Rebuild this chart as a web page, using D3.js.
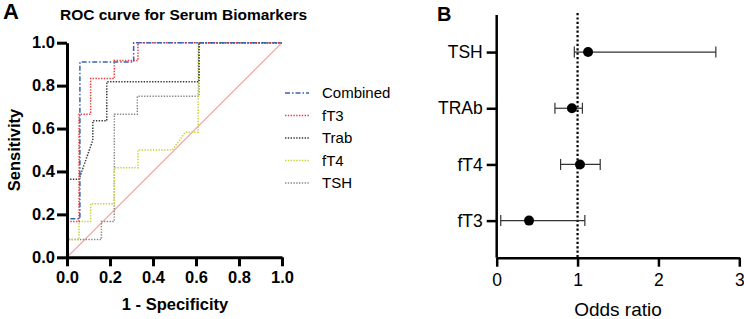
<!DOCTYPE html>
<html lang="en">
  <head>
    <meta http-equiv="Content-Type" content="text/html; charset=UTF-8">
    <title>ROC curve and odds ratios</title>
    <script type="text/javascript" src="https://cdn.jsdelivr.net/npm/d3@7"></script>
    <style type="text/css">
      body { margin: 0; background: white; }
      text { font-family: "Liberation Sans", Arial, sans-serif; }
    </style>
  </head>
  <body>
    <script type="text/javascript">

      // ROC curves (1 - specificity, sensitivity)
      var combinedFpr = [0, 0, 0.06, 0.06, 0.31, 0.31, 1];
      var combinedTpr = [0, 0.18, 0.18, 0.91, 0.91, 1, 1];
      var ft3Fpr = [0, 0, 0.056, 0.056, 0.11, 0.11, 0.22, 0.22, 0.33, 0.33, 1];
      var ft3Tpr = [0, 0.167, 0.167, 0.667, 0.667, 0.833, 0.833, 0.917, 0.917, 1, 1];
      var trabFpr = [0, 0, 0.056, 0.12, 0.12, 0.185, 0.185, 0.614, 0.614, 1];
      var trabTpr = [0, 0.364, 0.364, 0.546, 0.636, 0.636, 0.818, 0.818, 1, 1];
      var ft4Fpr = [0, 0, 0.056, 0.056, 0.11, 0.11, 0.22, 0.22, 0.33, 0.33, 0.49, 0.55, 0.61, 0.61, 1];
      var ft4Tpr = [0, 0.083, 0.083, 0.167, 0.167, 0.25, 0.25, 0.417, 0.417, 0.5, 0.5, 0.583, 0.583, 1, 1];
      var tshFpr = [0, 0, 0.16, 0.16, 0.22, 0.22, 0.327, 0.327, 0.614, 0.614, 1];
      var tshTpr = [0, 0.083, 0.083, 0.167, 0.167, 0.667, 0.667, 0.75, 0.75, 1, 1];
      var refFpr = [0, 1];
      var refTpr = [0, 1];
      var rocTicks = [0, 0.2, 0.4, 0.6, 0.8, 1.0];

      // odds ratios
      var forestLabels = ["TSH", "TRAb", "fT4", "fT3"];
      var orValues = [1.13, 0.93, 1.03, 0.40];
      var ciLow = [0.96, 0.72, 0.79, 0.05];
      var ciHigh = [2.71, 1.06, 1.28, 1.09];
      var orTicks = [0, 1, 2, 3];

      var ancho = 744;
      var alto = 319;

      var svg = d3.select("body")
                  .append("svg")
                  .attr("width", ancho)
                  .attr("height", alto);

      /* ---------- panel A ---------- */
      var escalaX = d3.scaleLinear().domain([0, 1]).range([67, 282]);
      var escalaY = d3.scaleLinear().domain([0, 1]).range([257.3, 42.7]);

      var series = [
        { name: "Combined", fpr: combinedFpr, tpr: combinedTpr, color: "#3d63ad", dash: "5,2,1.5,2" },
        { name: "fT3", fpr: ft3Fpr, tpr: ft3Tpr, color: "#ee3b3b", dash: "1.4,1.4" },
        { name: "Trab", fpr: trabFpr, tpr: trabTpr, color: "#3a3a3a", dash: "1.4,1.4" },
        { name: "fT4", fpr: ft4Fpr, tpr: ft4Tpr, color: "#c6d33a", dash: "1.4,1.4" },
        { name: "TSH", fpr: tshFpr, tpr: tshTpr, color: "#8a8a8a", dash: "1.4,1.4" }
      ];

      var linea = d3.line()
                    .x(function(d) { return escalaX(d[0]); })
                    .y(function(d) { return escalaY(d[1]); });

      var puntos = function(fpr, tpr) {
        return fpr.map(function(v, i) { return [v, tpr[i]]; });
      };

      svg.append("path")
         .attr("d", linea(puntos(refFpr, refTpr)))
         .attr("fill", "none")
         .attr("stroke", "#f3a3a3")
         .attr("stroke-width", 1.2);

      svg.selectAll("path.roc")
         .data(series.slice().reverse())
         .enter()
         .append("path")
         .attr("class", "roc")
         .attr("d", function(d) { return linea(puntos(d.fpr, d.tpr)); })
         .attr("fill", "none")
         .attr("stroke", function(d) { return d.color; })
         .attr("stroke-width", 1.5)
         .attr("stroke-dasharray", function(d) { return d.dash; });

      var ejeXA = svg.append("g")
         .attr("transform", "translate(0,257.3)")
         .call(d3.axisBottom(escalaX).tickValues(rocTicks).tickFormat(d3.format(".1f")).tickSize(9).tickSizeOuter(0).tickPadding(5));
      var ejeYA = svg.append("g")
         .attr("transform", "translate(67,0)")
         .call(d3.axisLeft(escalaY).tickValues(rocTicks).tickFormat(d3.format(".1f")).tickSize(10).tickSizeOuter(0).tickPadding(2));

      [ejeXA, ejeYA].forEach(function(g) {
        g.selectAll("path, line").attr("stroke", "black").attr("stroke-width", 3);
        g.selectAll("text")
         .attr("fill", "black")
         .attr("font-size", "16.5px")
         .attr("font-weight", "bold")
         .style("font-family", "'Liberation Sans', Arial, sans-serif");
      });

      // legend
      var leyenda = svg.selectAll("g.leyenda")
         .data(series)
         .enter()
         .append("g")
         .attr("class", "leyenda")
         .attr("transform", function(d, i) { return "translate(0," + (93 + i * 22.5) + ")"; });
      leyenda.append("line")
         .attr("x1", 285).attr("x2", 309)
         .attr("stroke", function(d) { return d.color; })
         .attr("stroke-width", 1.5)
         .attr("stroke-dasharray", function(d) { return d.dash; });
      leyenda.append("text")
         .attr("x", 322)
         .attr("y", 5.3)
         .attr("font-size", "15px")
         .text(function(d) { return d.name; });

      svg.append("text").attr("x", 3).attr("y", 18.5)
         .attr("font-size", "22px").attr("font-weight", "bold").text("A");
      svg.append("text").attr("x", 60).attr("y", 19.5)
         .attr("font-size", "15.5px").attr("font-weight", "bold")
         .text("ROC curve for Serum Biomarkers");
      svg.append("text")
         .attr("transform", "translate(19.5,150) rotate(-90)")
         .attr("text-anchor", "middle")
         .attr("font-size", "16.5px").attr("font-weight", "bold")
         .text("Sensitivity");
      svg.append("text").attr("x", 175).attr("y", 309.5)
         .attr("text-anchor", "middle")
         .attr("font-size", "16.5px").attr("font-weight", "bold")
         .text("1 - Specificity");

      /* ---------- panel B ---------- */
      var escalaOR = d3.scaleLinear().domain([0, 3]).range([496.7, 739.3]);
      var escalaCat = d3.scalePoint().domain(forestLabels).range([15, 257.7]).padding(0.66);

      svg.append("line")
         .attr("x1", escalaOR(1)).attr("x2", escalaOR(1))
         .attr("y1", 13).attr("y2", 257.7)
         .attr("stroke", "black")
         .attr("stroke-width", 2.2)
         .attr("stroke-dasharray", "2.2,2.2");

      var filas = svg.selectAll("g.fila")
         .data(forestLabels)
         .enter()
         .append("g")
         .attr("class", "fila")
         .attr("transform", function(d) { return "translate(0," + escalaCat(d) + ")"; });

      filas.append("line")
         .attr("x1", function(d, i) { return escalaOR(ciLow[i]); })
         .attr("x2", function(d, i) { return escalaOR(ciHigh[i]); })
         .attr("stroke", "#333").attr("stroke-width", 1.2);
      filas.append("line")
         .attr("x1", function(d, i) { return escalaOR(ciLow[i]); })
         .attr("x2", function(d, i) { return escalaOR(ciLow[i]); })
         .attr("y1", -5.5).attr("y2", 5.5)
         .attr("stroke", "#333").attr("stroke-width", 1.2);
      filas.append("line")
         .attr("x1", function(d, i) { return escalaOR(ciHigh[i]); })
         .attr("x2", function(d, i) { return escalaOR(ciHigh[i]); })
         .attr("y1", -5.5).attr("y2", 5.5)
         .attr("stroke", "#333").attr("stroke-width", 1.2);
      filas.append("circle")
         .attr("cx", function(d, i) { return escalaOR(orValues[i]); })
         .attr("r", 5)
         .attr("fill", "black");

      var ejeXB = svg.append("g")
         .attr("transform", "translate(0,257.7)")
         .call(d3.axisBottom(escalaOR).tickValues(orTicks).tickFormat(d3.format("d")).tickSize(9).tickSizeOuter(0).tickPadding(7));
      var ejeYB = svg.append("g")
         .attr("transform", "translate(496.7,0)")
         .call(d3.axisLeft(escalaCat).tickSize(10).tickSizeOuter(0).tickPadding(4));
      ejeYB.select("path.domain").attr("d", "M0,15V257.7");

      [ejeXB, ejeYB].forEach(function(g) {
        g.selectAll("path, line").attr("stroke", "black").attr("stroke-width", 2.5);
        g.selectAll("text")
         .attr("fill", "black")
         .attr("font-size", "17.5px")
         .style("font-family", "'Liberation Sans', Arial, sans-serif");
      });

      svg.append("text").attr("x", 437).attr("y", 20.7)
         .attr("font-size", "20px").attr("font-weight", "bold").text("B");
      svg.append("text").attr("x", 618).attr("y", 316)
         .attr("text-anchor", "middle")
         .attr("font-size", "19px")
         .text("Odds ratio");

    </script>
  </body>
</html>
